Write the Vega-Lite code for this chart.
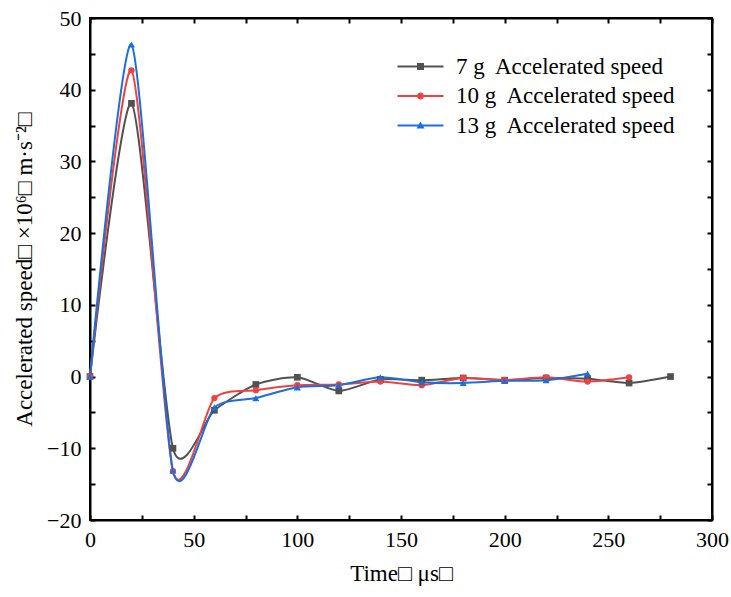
{
  "$schema": "https://vega.github.io/schema/vega-lite/v6.json",
  "width": 622,
  "height": 502,
  "autosize": {"type": "none"},
  "padding": {"left": 90, "top": 18, "right": 19, "bottom": 77},
  "background": "white",
  "config": {
    "font": "Liberation Serif",
    "view": {"stroke": "black", "strokeWidth": 2},
    "axis": {
      "domainColor": "black", "domainWidth": 2, "tickColor": "black", "tickWidth": 2,
      "grid": false, "labelColor": "black", "titleColor": "black",
      "labelFont": "Liberation Serif", "titleFont": "Liberation Serif",
      "labelFontSize": 22, "titleFontSize": 23, "titleFontWeight": "normal",
      "labelFlush": false, "labelOverlap": false, "tickSize": -5, "ticks": true, "zindex": 1
    }
  },
  "data": {
    "values": [
      {"t": 0, "a": 0, "s": "7 g\u00a0 Accelerated speed"},
      {"t": 20, "a": 38.1, "s": "7 g\u00a0 Accelerated speed"},
      {"t": 40, "a": -10.0, "s": "7 g\u00a0 Accelerated speed"},
      {"t": 60, "a": -4.7, "s": "7 g\u00a0 Accelerated speed"},
      {"t": 80, "a": -1.1, "s": "7 g\u00a0 Accelerated speed"},
      {"t": 100, "a": -0.1, "s": "7 g\u00a0 Accelerated speed"},
      {"t": 120, "a": -2.0, "s": "7 g\u00a0 Accelerated speed"},
      {"t": 140, "a": -0.4, "s": "7 g\u00a0 Accelerated speed"},
      {"t": 160, "a": -0.5, "s": "7 g\u00a0 Accelerated speed"},
      {"t": 180, "a": -0.2, "s": "7 g\u00a0 Accelerated speed"},
      {"t": 200, "a": -0.5, "s": "7 g\u00a0 Accelerated speed"},
      {"t": 220, "a": -0.2, "s": "7 g\u00a0 Accelerated speed"},
      {"t": 240, "a": -0.3, "s": "7 g\u00a0 Accelerated speed"},
      {"t": 260, "a": -0.9, "s": "7 g\u00a0 Accelerated speed"},
      {"t": 280, "a": 0.0, "s": "7 g\u00a0 Accelerated speed"},
      {"t": 0, "a": 0, "s": "10 g\u00a0 Accelerated speed"},
      {"t": 20, "a": 42.7, "s": "10 g\u00a0 Accelerated speed"},
      {"t": 40, "a": -13.2, "s": "10 g\u00a0 Accelerated speed"},
      {"t": 60, "a": -3.0, "s": "10 g\u00a0 Accelerated speed"},
      {"t": 80, "a": -1.9, "s": "10 g\u00a0 Accelerated speed"},
      {"t": 100, "a": -1.2, "s": "10 g\u00a0 Accelerated speed"},
      {"t": 120, "a": -1.1, "s": "10 g\u00a0 Accelerated speed"},
      {"t": 140, "a": -0.7, "s": "10 g\u00a0 Accelerated speed"},
      {"t": 160, "a": -1.2, "s": "10 g\u00a0 Accelerated speed"},
      {"t": 180, "a": -0.2, "s": "10 g\u00a0 Accelerated speed"},
      {"t": 200, "a": -0.5, "s": "10 g\u00a0 Accelerated speed"},
      {"t": 220, "a": -0.1, "s": "10 g\u00a0 Accelerated speed"},
      {"t": 240, "a": -0.7, "s": "10 g\u00a0 Accelerated speed"},
      {"t": 260, "a": -0.1, "s": "10 g\u00a0 Accelerated speed"},
      {"t": 0, "a": 0, "s": "13 g\u00a0 Accelerated speed"},
      {"t": 20, "a": 46.3, "s": "13 g\u00a0 Accelerated speed"},
      {"t": 40, "a": -13.1, "s": "13 g\u00a0 Accelerated speed"},
      {"t": 60, "a": -4.3, "s": "13 g\u00a0 Accelerated speed"},
      {"t": 80, "a": -3.0, "s": "13 g\u00a0 Accelerated speed"},
      {"t": 100, "a": -1.5, "s": "13 g\u00a0 Accelerated speed"},
      {"t": 120, "a": -1.2, "s": "13 g\u00a0 Accelerated speed"},
      {"t": 140, "a": -0.1, "s": "13 g\u00a0 Accelerated speed"},
      {"t": 160, "a": -0.8, "s": "13 g\u00a0 Accelerated speed"},
      {"t": 180, "a": -0.9, "s": "13 g\u00a0 Accelerated speed"},
      {"t": 200, "a": -0.6, "s": "13 g\u00a0 Accelerated speed"},
      {"t": 220, "a": -0.5, "s": "13 g\u00a0 Accelerated speed"},
      {"t": 240, "a": 0.4, "s": "13 g\u00a0 Accelerated speed"}
    ]
  },
  "layer": [
    {
      "mark": {"type": "line", "interpolate": "cardinal", "tension": 0.3, "strokeWidth": 2},
      "encoding": {
        "x": {
          "field": "t", "type": "quantitative",
          "scale": {"domain": [0, 300], "nice": false},
          "axis": {
            "orient": "bottom",
            "values": [0, 25, 50, 75, 100, 125, 150, 175, 200, 225, 250, 275, 300],
            "labelExpr": "datum.value % 50 === 0 ? datum.label : ''",
            "labelPadding": 14,
            "title": "Time□ μs□",
            "titlePadding": 12,
            "encode": {"ticks": {"update": {"y2": {"signal": "datum.value % 50 === 0 ? -9 : -5"}}}}
          }
        },
        "y": {
          "field": "a", "type": "quantitative",
          "scale": {"domain": [-20, 50], "nice": false},
          "axis": {
            "orient": "left",
            "values": [-20, -15, -10, -5, 0, 5, 10, 15, 20, 25, 30, 35, 40, 45, 50],
            "labelExpr": "datum.value % 10 === 0 ? datum.label : ''",
            "labelPadding": 14,
            "title": "Accelerated speed□ ×10⁶□ m·s⁻²□",
            "titlePadding": 10,
            "encode": {"ticks": {"update": {"x2": {"signal": "datum.value % 10 === 0 ? 9 : 5"}}}}
          }
        },
        "color": {
          "field": "s", "type": "nominal",
          "scale": {
            "domain": ["7 g\u00a0 Accelerated speed", "10 g\u00a0 Accelerated speed", "13 g\u00a0 Accelerated speed"],
            "range": ["#515151", "#F14040", "#1A6FDF"]
          },
          "legend": {
            "orient": "none", "legendX": 319, "legendY": 37, "title": null, "padding": 0,
            "symbolSize": 100, "labelFontSize": 23, "labelOffset": 24, "rowPadding": 5.5,
            "labelLimit": 0, "labelColor": "black", "labelFont": "Liberation Serif",
            "symbolStrokeWidth": 0,
            "encode": {
              "symbols": {
                "update": {
                  "shape": {"signal": "['M-4.6,-0.2H4.6V0.2H-4.6Z M-0.7,-0.7H0.7V0.7H-0.7Z', 'M-4.6,-0.2H4.6V0.2H-4.6Z M-0.7,0A0.7,0.7,0,1,1,0.7,0A0.7,0.7,0,1,1,-0.7,0Z', 'M-4.6,-0.2H4.6V0.2H-4.6Z M0,-0.8L0.8,0.6L-0.8,0.6Z'][datum.index]"},
                  "fill": {"signal": "['#515151', '#F14040', '#1A6FDF'][datum.index]"},
                  "strokeWidth": {"value": 0},
                  "opacity": {"value": 1}
                }
              }
            }
          }
        }
      }
    },
    {
      "transform": [{"filter": "datum.s === '7 g\u00a0 Accelerated speed'"}],
      "mark": {"type": "point", "filled": true, "opacity": 1, "size": 45, "shape": "square", "color": "#515151"},
      "encoding": {
        "x": {
          "field": "t", "type": "quantitative",
          "scale": {"domain": [0, 300], "nice": false},
          "axis": {
            "orient": "top",
            "values": [0, 25, 50, 75, 100, 125, 150, 175, 200, 225, 250, 275, 300],
            "labels": false, "title": null,
            "encode": {"ticks": {"update": {"y2": {"signal": "datum.value % 50 === 0 ? 9 : 5"}}}}
          }
        },
        "y": {
          "field": "a", "type": "quantitative",
          "scale": {"domain": [-20, 50], "nice": false},
          "axis": {
            "orient": "right",
            "values": [-20, -15, -10, -5, 0, 5, 10, 15, 20, 25, 30, 35, 40, 45, 50],
            "labels": false, "title": null,
            "encode": {"ticks": {"update": {"x2": {"signal": "datum.value % 10 === 0 ? -9 : -5"}}}}
          }
        }
      }
    },
    {
      "transform": [{"filter": "datum.s === '10 g\u00a0 Accelerated speed'"}],
      "mark": {"type": "point", "filled": true, "opacity": 1, "size": 40, "shape": "circle", "color": "#F14040"},
      "encoding": {
        "x": {"field": "t", "type": "quantitative", "scale": {"domain": [0, 300], "nice": false}, "axis": null},
        "y": {"field": "a", "type": "quantitative", "scale": {"domain": [-20, 50], "nice": false}, "axis": null}
      }
    },
    {
      "transform": [{"filter": "datum.s === '13 g\u00a0 Accelerated speed'"}],
      "mark": {"type": "point", "filled": true, "opacity": 1, "size": 50, "shape": "triangle-up", "color": "#1A6FDF"},
      "encoding": {
        "x": {"field": "t", "type": "quantitative", "scale": {"domain": [0, 300], "nice": false}, "axis": null},
        "y": {"field": "a", "type": "quantitative", "scale": {"domain": [-20, 50], "nice": false}, "axis": null}
      }
    }
  ],
  "resolve": {"axis": {"x": "independent", "y": "independent"}}
}
